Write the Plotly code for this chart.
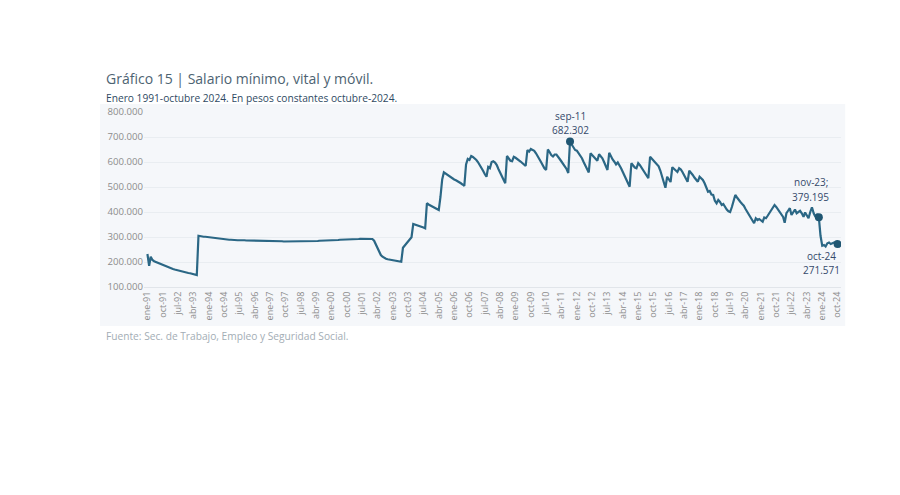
import plotly.graph_objects as go
import pandas as pd

# Monthly real minimum wage (pesos constantes oct-2024), Jan-1991 .. Oct-2024
v1991 = [232000, 185000, 221000, 208000, 203000, 200000, 196000, 193000, 190000, 187000, 185000, 183000]
v1992 = [180000, 177000, 175000, 172000, 170000, 168000, 166000, 163000, 162000, 161000, 160000, 158000]
v1993 = [156000, 155000, 154000, 152000, 150000, 148000, 305000, 303000, 302000, 301000, 301000, 300000]
v1994 = [300000, 300000, 299000, 298000, 297000, 296000, 295000, 294000, 293000, 292000, 291000, 290000]
v1995 = [289000, 289000, 288000, 288000, 288000, 287000, 287000, 288000, 287000, 287000, 286000, 286000]
v1996 = [286000, 286000, 285000, 285000, 285000, 286000, 285000, 285000, 285000, 284000, 284000, 284000]
v1997 = [284000, 284000, 284000, 283000, 283000, 283000, 283000, 283000, 282000, 282000, 282000, 282000]
v1998 = [282000, 282000, 281000, 281000, 281000, 281000, 281000, 281000, 282000, 282000, 282000, 283000]
v1999 = [283000, 283000, 284000, 284000, 284000, 285000, 285000, 285000, 286000, 286000, 286000, 287000]
v2000 = [287000, 287000, 288000, 288000, 288000, 289000, 289000, 289000, 290000, 290000, 290000, 291000]
v2001 = [291000, 291000, 292000, 292000, 292000, 293000, 293000, 294000, 294000, 295000, 295000, 295000]
v2002 = [292000, 285000, 270000, 255000, 240000, 228000, 221000, 216000, 213000, 211000, 210000, 209000]
v2003 = [208000, 206000, 204000, 203000, 202000, 201000, 257000, 265000, 275000, 283000, 292000, 299000]
v2004 = [352000, 350000, 348000, 346000, 344000, 341000, 338000, 335000, 435000, 430000, 426000, 422000]
v2005 = [418000, 414000, 410000, 408000, 460000, 530000, 559000, 554000, 548000, 543000, 538000, 534000]
v2006 = [530000, 527000, 524000, 520000, 515000, 510000, 504000, 590000, 612000, 608000, 624000, 620000]
v2007 = [615000, 608000, 600000, 590000, 578000, 565000, 552000, 541000, 580000, 575000, 600000, 603000]
v2008 = [598000, 588000, 572000, 556000, 540000, 526000, 515000, 624000, 615000, 605000, 603000, 621000]
v2009 = [617000, 613000, 608000, 602000, 596000, 590000, 584000, 648000, 642000, 652000, 648000, 645000]
v2010 = [635000, 625000, 612000, 600000, 587000, 575000, 568000, 650000, 640000, 628000, 622000, 630000]
v2011 = [630000, 622000, 612000, 602000, 592000, 582000, 572000, 556000, 682302, 670000, 658000, 648000]
v2012 = [645000, 635000, 625000, 615000, 600000, 585000, 570000, 558000, 635000, 628000, 622000, 615000]
v2013 = [605000, 631000, 625000, 615000, 600000, 585000, 568000, 637000, 622000, 610000, 601000, 590000]
v2014 = [598000, 588000, 575000, 560000, 545000, 530000, 515000, 501000, 595000, 585000, 578000, 575000]
v2015 = [595000, 587000, 578000, 567000, 555000, 545000, 535000, 621000, 613000, 605000, 598000, 591000]
v2016 = [583000, 565000, 545000, 520000, 497000, 541000, 530000, 520000, 579000, 572000, 566000, 560000]
v2017 = [575000, 570000, 560000, 548000, 532000, 521000, 565000, 558000, 548000, 538000, 530000, 521000]
v2018 = [541000, 536000, 528000, 515000, 498000, 481000, 484000, 470000, 468000, 445000, 435000, 448000]
v2019 = [440000, 428000, 432000, 420000, 410000, 403000, 400000, 420000, 445000, 468000, 458000, 447000]
v2020 = [440000, 432000, 425000, 412000, 400000, 390000, 380000, 368000, 355000, 375000, 368000, 372000]
v2021 = [368000, 361000, 378000, 375000, 385000, 395000, 405000, 415000, 428000, 420000, 410000, 401000]
v2022 = [392000, 380000, 357000, 395000, 405000, 415000, 388000, 400000, 410000, 395000, 400000, 405000]
v2023 = [395000, 381000, 398000, 388000, 375000, 400000, 419000, 395000, 381000, 392000, 379195, 305000]
v2024 = [265000, 268000, 262000, 275000, 278000, 272000, 276000, 278000, 274000, 271571]

values = (v1991 + v1992 + v1993 + v1994 + v1995 + v1996 + v1997 + v1998 + v1999 + v2000 +
          v2001 + v2002 + v2003 + v2004 + v2005 + v2006 + v2007 + v2008 + v2009 + v2010 +
          v2011 + v2012 + v2013 + v2014 + v2015 + v2016 + v2017 + v2018 + v2019 + v2020 +
          v2021 + v2022 + v2023 + v2024)

months_es = ["ene", "feb", "mar", "abr", "may", "jun", "jul", "ago", "sep", "oct", "nov", "dic"]
dates = pd.date_range("1991-01-01", periods=len(values), freq="MS")
tick_dates = dates[::9]
tick_labels = [f"{months_es[d.month - 1]}-{d.year % 100:02d}" for d in tick_dates]

hl_dates = [pd.Timestamp("2011-09-01"), pd.Timestamp("2023-11-01"), pd.Timestamp("2024-10-01")]
hl_names = ["sep-11", "nov-23;", "oct-24"]
hl_vals = [values[list(dates).index(d)] for d in hl_dates]
hl_texts = [f"{v:,}".replace(",", ".") for v in hl_vals]

line_color = "#2b6785"
fig = go.Figure()
fig.add_trace(go.Scatter(x=dates, y=values, mode="lines",
                         line=dict(color=line_color, width=2.2), hoverinfo="skip"))
fig.add_trace(go.Scatter(x=hl_dates, y=hl_vals, mode="markers",
                         marker=dict(color="#1f5672", size=8), hoverinfo="skip"))

ann_font = dict(family="Open Sans", size=10, color="#34496a")
# (xshift, yshift name, yshift value)
offsets = [(0, 25, 11), (-8, 35, 20), (-16, -12, -26)]
for d, v, name, txt, (xs, y1, y2) in zip(hl_dates, hl_vals, hl_names, hl_texts, offsets):
    fig.add_annotation(x=d, y=v, text=name, xshift=xs, yshift=y1, showarrow=False, font=ann_font)
    fig.add_annotation(x=d, y=v, text=txt, xshift=xs, yshift=y2, showarrow=False, font=ann_font)

# panel background
fig.add_shape(type="rect", xref="paper", yref="paper", x0=-0.063, x1=1.006, y0=-0.223, y1=1.046,
              fillcolor="#f5f7fa", line=dict(width=0), layer="below")

fig.add_annotation(xref="paper", yref="paper", x=-0.0574, y=1.194, xanchor="left", yanchor="middle",
                   text="Gráfico 15 | Salario mínimo, vital y móvil.", showarrow=False,
                   font=dict(family="Open Sans", size=14, color="#4d6372"))
fig.add_annotation(xref="paper", yref="paper", x=-0.0574, y=1.08, xanchor="left", yanchor="middle",
                   text="Enero 1991-octubre 2024. En pesos constantes octubre-2024.", showarrow=False,
                   font=dict(family="Open Sans", size=10.2, color="#2f4a63"))
fig.add_annotation(xref="paper", yref="paper", x=-0.0574, y=-0.28, xanchor="left", yanchor="middle",
                   text="Fuente: Sec. de Trabajo, Empleo y Seguridad Social.", showarrow=False,
                   font=dict(family="Open Sans", size=10.2, color="#a3adb5"))

fig.update_layout(
    width=900, height=495,
    margin=dict(l=136, r=67, t=104, b=216),
    paper_bgcolor="white", plot_bgcolor="rgba(0,0,0,0)",
    separators=",.",
    showlegend=False,
    font=dict(family="Open Sans", color="#8c8c8c"),
    xaxis=dict(range=[pd.Timestamp("1990-11-01"), pd.Timestamp("2024-12-01")],
               tickvals=tick_dates, ticktext=tick_labels, tickangle=-90,
               tickfont=dict(size=9, color="#8c8c8c"), showgrid=False,
               showline=True, linecolor="#e1e5ea", linewidth=1, ticks="", zeroline=False),
    yaxis=dict(range=[100000, 800000], tickvals=[100000, 200000, 300000, 400000, 500000, 600000, 700000, 800000],
               tickformat=",d", tickfont=dict(size=9.6, color="#8c8c8c"),
               showgrid=True, gridcolor="#e9edf1", gridwidth=1, zeroline=False, ticks=""),
)

fig.write_html("out.html")
